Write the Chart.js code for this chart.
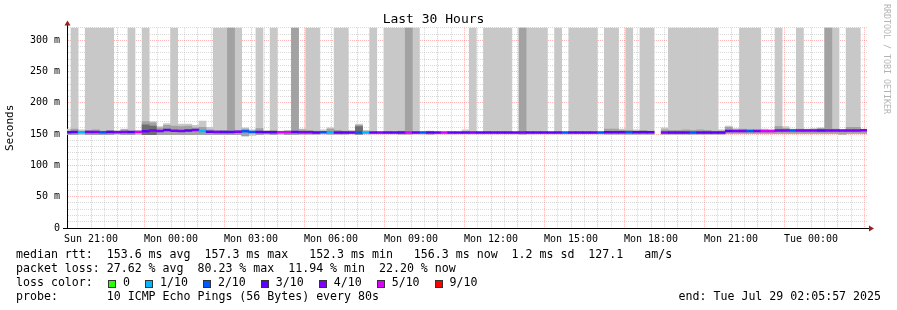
<!DOCTYPE html>
<html>
<head>
<meta charset="utf-8">
<script src="https://cdn.jsdelivr.net/npm/chart.js@4.4.0/dist/chart.umd.min.js"></script>
<style>
  body { margin: 0; background: #fff; }
  #wrap { position: relative; width: 897px; height: 310px; font-family: 'DejaVu Sans Mono', monospace; color: #000; }
  #smoke { position: absolute; left: 0; top: 0; }
  .txt { position: absolute; font-size: 11.6px; line-height: 14px; white-space: pre; }
  .lossKey { position: absolute; left: 108px; top: 275.3px; display: flex; align-items: center; height: 14px; font-size: 11.6px; white-space: pre; }
  .lossKey .sw { width: 6px; height: 6px; border: 1px solid #333; margin-right: 7px; margin-top: 3px; }
  .lossKey .lbl { margin-right: 15px; }
  .mark { position: absolute; left: 882px; top: 4px; writing-mode: vertical-rl; font-size: 8.3px; line-height: 10px; color: #b4b4b4; white-space: pre; }
</style>
</head>
<body>
<div id="wrap">
  <canvas id="smoke" width="897" height="310"></canvas>
  <div class="mark">RRDTOOL / TOBI OETIKER</div>
  <div class="txt" style="left:16px;top:247.3px">median rtt:  153.6 ms avg  157.3 ms max   152.3 ms min   156.3 ms now  1.2 ms sd  127.1   am/s</div>
  <div class="txt" style="left:16px;top:261.3px">packet loss: 27.62 % avg  80.23 % max  11.94 % min  22.20 % now</div>
  <div class="txt" style="left:16px;top:275.3px">loss color:</div>
  <div class="lossKey" id="lossKey"></div>
  <div class="txt" style="left:16px;top:289.3px">probe:       10 ICMP Echo Pings (56 Bytes) every 80s</div>
  <div class="txt" style="right:16px;top:289.3px">end: Tue Jul 29 02:05:57 2025</div>
</div>
<script>
// one sample every 16 minutes, first sample 1 minute after the graph start (Sun 20:05:57)
const sampleStep = 16;
const firstSampleMinute = 1;

// median rtt per sample (ms)
const medianRtt = [
  153.0, 153.5, 153.0, 153.5, 153.5, 153.0, 153.5, 153.0, 153.5, 153.5,
  153.5, 154.5, 156.0, 155.0, 156.5, 155.5, 155.0, 156.0, 156.5, 155.0,
  154.0, 153.5, 153.5, 153.5, 154.0, 154.5, 153.5, 153.5, 153.0, 153.0,
  153.0, 153.0, 153.5, 153.0, 153.0, 152.5, 153.0, 153.0, 152.5, 152.5,
  152.5, 152.5, 152.5, 152.5, 152.5, 152.5, 152.5, 152.5, 152.5, 152.5,
  152.5, 152.5, 152.5, 152.5, 152.5, 152.5, 152.5, 152.5, 152.5, 152.5,
  152.5, 152.5, 152.5, 152.5, 152.5, 152.5, 152.5, 152.5, 152.5, 152.5,
  152.5, 152.5, 152.5, 152.5, 152.5, 152.5, 153.0, 153.0, 153.0, 153.0,
  153.0, 153.0, 153.0, null,  152.5, 152.5, 152.5, 152.5, 152.5, 152.5,
  152.5, 152.5, 152.5, 155.0, 155.0, 155.0, 155.0, 155.0, 155.0, 155.0,
  156.0, 156.0, 156.0, 156.0, 156.0, 156.0, 156.0, 156.0, 156.0, 156.0,
  156.0, 156.0, 156.3
];

// lost pings out of 10 per sample
const lostPings = [
  3, 3, 1, 4, 4, 2, 3, 4, 4, 3,
  5, 3, 4, 4, 3, 4, 4, 3, 4, 1,
  3, 4, 3, 3, 4, 2, 2, 3, 3, 3,
  5, 5, 3, 4, 4, 3, 2, 1, 3, 3,
  3, 2, 1, 3, 4, 3, 3, 3, 5, 3,
  2, 3, 3, 5, 3, 3, 3, 4, 3, 3,
  3, 3, 3, 3, 4, 3, 3, 3, 3, 3,
  2, 3, 3, 3, 3, 2, 3, 3, 3, 2,
  3, 3, 3, null, 4, 3, 3, 3, 2, 3,
  3, 3, 3, 3, 4, 4, 2, 4, 5, 5,
  4, 4, 2, 4, 4, 4, 3, 4, 4, 4,
  4, 4, 4
];

// smoke: lowest ping, top of the light, medium and dark bands (ms)
const smokeLow = [
  149, 149, 149, 149, 149, 149, 149, 149, 149, 149,
  149, 149, 149, 149, 149, 149, 149, 149, 149, 149,
  149, 149, 149, 149, 149, 147, 148, 149, 149, 149,
  149, 149, 149, 150, 150, 150, 150, 150, 150, 150,
  150, 150, 150, 150, 150, 150, 150, 150, 150, 150,
  150, 150, 150, 150, 150, 150, 150, 150, 150, 150,
  150, 150, 150, 150, 150, 150, 150, 150, 150, 150,
  150, 150, 150, 150, 150, 150, 150, 150, 150, 150,
  150, 150, 150, null, 150, 150, 150, 150, 150, 150,
  150, 150, 150, 151, 151, 151, 151, 151, 151, 151,
  151, 151, 151, 151, 151, 151, 151, 151, 151, 150,
  151, 151, 151
];
const smokeLight = [
  158, 330, 157, 330, 330, 330, 330, 156, 158, 330,
  156, 330, 170, 162, 167, 330, 166, 166, 164, 171,
  161, 330, 330, 330, 330, 160, 157, 330, 156, 330,
  155, 156, 330, 158, 330, 330, 157, 160, 330, 330,
  156, 166, 156, 330, 153, 330, 330, 330, 330, 330,
  154, 155, 153, 153, 153, 153, 157, 330, 153, 330,
  330, 330, 330, 153, 330, 330, 330, 330, 153, 330,
  153, 330, 330, 330, 330, 154, 330, 330, 158, 330,
  157, 330, 330, null, 160, 330, 330, 330, 330, 330,
  330, 330, 157, 163, 159, 330, 330, 330, 158, 157,
  330, 162, 158, 330, 158, 159, 160, 330, 330, 157,
  330, 330, 158
];
const smokeMedium = [
  155, 158, null, 156, 157, 155, 156, null, 157, 155,
  null, 170, 168, 160, 164, 163, 162, 163, 160, 161,
  157, 156, 156, 330, 156, 158, null, 159, null, 156,
  null, 155, 330, 157, 156, 155, null, 158, 156, 155,
  null, 164, null, null, null, null, null, 155, 330, null,
  null, 154, null, null, null, null, null, null, null, null,
  null, null, null, null, 330, null, null, null, null, null,
  null, null, null, null, null, null, 158, 158, 156, 156,
  155, 156, 155, null, 157, 156, 156, 157, 156, 157,
  156, 155, 155, 161, 157, 158, 157, 157, 156, 156,
  162, 159, 157, 158, 157, 157, 159, 330, 158, 156,
  161, 161, 157
];
const smokeDark = [
  null, null, null, null, null, null, null, null, null, null,
  null, 165, 163, null, null, null, null, null, null, null,
  null, null, null, null, null, null, null, null, null, null,
  null, null, null, null, null, null, null, null, null, null,
  null, 162, null, null, null, null, null, null, null, null,
  null, null, null, null, null, null, null, null, null, null,
  null, null, null, null, null, null, null, null, null, null,
  null, null, null, null, null, null, null, null, null, null,
  null, null, null, null, null, null, null, null, null, null,
  null, null, null, null, null, null, null, null, null, null,
  null, null, null, null, null, null, null, null, null, null,
  null, null, null
];

// x axis: labelled every 3 hours, grid every 30 minutes (minutes from graph start)
const timeLabels = ['Sun 21:00', 'Mon 00:00', 'Mon 03:00', 'Mon 06:00', 'Mon 09:00',
                    'Mon 12:00', 'Mon 15:00', 'Mon 18:00', 'Mon 21:00', 'Tue 00:00'];
const firstLabelMinute = 54.05;
const labelEvery = 180;
const spanMinutes = 1800;

// y axis
const yTickLabels = ['0', '50 m', '100 m', '150 m', '200 m', '250 m', '300 m'];
const yMax = 320;

const lossLevels = [0, 1, 2, 3, 4, 5, 9];
const lossColors = {0: '#26ff00', 1: '#00b8ff', 2: '#0059ff', 3: '#5e00ff', 4: '#7e00ff', 5: '#dd00ff', 9: '#ff0000', 10: '#ff0000'};

const MAJOR = 'rgba(255, 110, 110, 0.5)';
const MINOR = 'rgba(170, 170, 170, 0.45)';
Chart.defaults.font.family = "'DejaVu Sans Mono', monospace";
Chart.defaults.color = '#000';

const sampleMinutes = medianRtt.map((_, i) => firstSampleMinute + i * sampleStep);
const band = (lo, hi) => sampleMinutes.map((x, i) =>
    ({x: x, y: (lo[i] == null || hi[i] == null) ? null : [lo[i], hi[i]]}));
const lineHalf = 1.5;
const medianBand = sampleMinutes.map((x, i) =>
    ({x: x, y: medianRtt[i] == null ? null : [medianRtt[i] - lineHalf, medianRtt[i] + lineHalf]}));

const xTicks = [];
for (let m = firstLabelMinute - 30; m <= spanMinutes; m += 30) xTicks.push(m);
const isHour = v => Math.abs(((v - firstLabelMinute) / 60) - Math.round((v - firstLabelMinute) / 60)) < 0.001;

const axisArrows = {
    id: 'axisArrows',
    afterDraw(chart) {
        const {ctx, chartArea: a} = chart;
        ctx.save();
        ctx.strokeStyle = '#000';
        ctx.lineWidth = 1;
        ctx.beginPath();
        ctx.moveTo(67.5, a.top);
        ctx.lineTo(67.5, 24);
        ctx.moveTo(63, 228.5);
        ctx.lineTo(870, 228.5);
        ctx.stroke();
        ctx.fillStyle = '#9a1f1f';
        ctx.beginPath();
        ctx.moveTo(64.5, 25.5);
        ctx.lineTo(70.5, 25.5);
        ctx.lineTo(67.5, 20.5);
        ctx.closePath();
        ctx.fill();
        ctx.beginPath();
        ctx.moveTo(869, 225.5);
        ctx.lineTo(869, 231.5);
        ctx.lineTo(874, 228.5);
        ctx.closePath();
        ctx.fill();
        ctx.restore();
    }
};

new Chart(document.getElementById('smoke'), {
    type: 'bar',
    data: {
        datasets: [
            {label: 'median', data: medianBand, order: 0,
             backgroundColor: lostPings.map(l => l == null ? 'transparent' : lossColors[l])},
            {label: 'smoke dark', data: band(smokeLow, smokeDark), order: 1, backgroundColor: '#6e6e6e'},
            {label: 'smoke medium', data: band(smokeLow, smokeMedium), order: 2, backgroundColor: '#a2a2a2'},
            {label: 'smoke light', data: band(smokeLow, smokeLight), order: 3, backgroundColor: '#c8c8c8'}
        ]
    },
    options: {
        responsive: false,
        animation: false,
        events: [],
        layout: {padding: {top: 6, right: 30, left: 0, bottom: 0}},
        datasets: {bar: {grouped: false, barPercentage: 1, categoryPercentage: 1, borderWidth: 0}},
        plugins: {
            legend: {display: false},
            tooltip: {enabled: false},
            title: {
                display: true,
                text: 'Last 30 Hours',
                font: {size: 13, weight: 'normal'},
                color: '#000',
                padding: {top: 6, bottom: 0.2}
            }
        },
        scales: {
            x: {
                type: 'linear',
                min: 0,
                max: spanMinutes,
                offset: false,
                z: 1,
                afterBuildTicks: s => { s.ticks = xTicks.map(v => ({value: v})); },
                afterFit: s => { s.height = 82; },
                grid: {
                    offset: false,
                    drawTicks: false,
                    lineWidth: 1,
                    color: c => isHour(c.tick.value) ? MAJOR : MINOR
                },
                border: {display: true, color: '#000', width: 1, dash: [1, 1]},
                ticks: {
                    autoSkip: false,
                    maxRotation: 0,
                    padding: 5,
                    font: {size: 10},
                    color: '#000',
                    callback: v => {
                        const k = Math.round((v - firstLabelMinute) / labelEvery);
                        return Math.abs(v - firstLabelMinute - k * labelEvery) < 0.01 && timeLabels[k] ? timeLabels[k] : '';
                    }
                }
            },
            y: {
                min: 0,
                max: yMax,
                z: 1,
                afterFit: s => { s.width = 67; },
                grid: {
                    drawTicks: false,
                    lineWidth: 1,
                    color: c => c.tick.value === 0 ? 'rgba(0,0,0,0)' : (c.tick.value % 50 === 0 ? MAJOR : MINOR)
                },
                border: {display: true, color: '#000', width: 1, dash: [1, 1]},
                ticks: {
                    stepSize: 10,
                    autoSkip: false,
                    padding: 7,
                    font: {size: 10},
                    color: '#000',
                    callback: v => v % 50 === 0 ? yTickLabels[v / 50] : ''
                },
                title: {
                    display: true,
                    text: 'Seconds',
                    font: {size: 11},
                    color: '#000',
                    padding: {top: 4, bottom: 0}
                }
            }
        }
    },
    plugins: [axisArrows]
});

const key = document.getElementById('lossKey');
lossLevels.forEach(l => {
    const sw = document.createElement('span');
    sw.className = 'sw';
    sw.style.background = lossColors[l];
    const lbl = document.createElement('span');
    lbl.className = 'lbl';
    lbl.textContent = l === 0 ? '0' : l + '/10';
    key.appendChild(sw);
    key.appendChild(lbl);
});
</script>
</body>
</html>
